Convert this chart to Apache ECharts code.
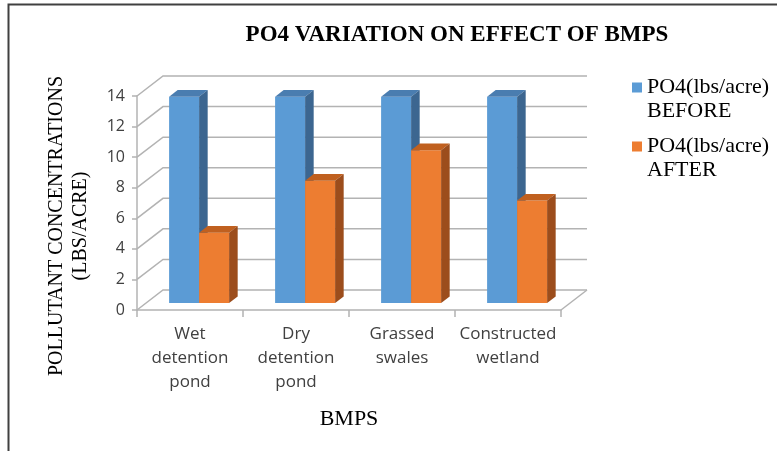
<!DOCTYPE html>
<html>
<head>
<meta charset="utf-8">
<script src="https://cdn.jsdelivr.net/npm/echarts@6/dist/echarts.min.js"></script>
<style>
  html, body { margin: 0; padding: 0; background: #fff; }
  #box { width: 777px; height: 451px; }
</style>
</head>
<body>
<div id="box"></div>
<script>
// data
const categories = ['Wet\ndetention\npond', 'Dry\ndetention\npond', 'Grassed\nswales', 'Constructed\nwetland'];
const seriesNames = ['PO4(lbs/acre) BEFORE', 'PO4(lbs/acre) AFTER'];
const before = [13.5, 13.5, 13.5, 13.5];
const after = [4.6, 8.0, 10.0, 6.7];
const yTicks = [0, 2, 4, 6, 8, 10, 12, 14];

// fake 3d depth of the plot box (px)
const DX = 26, DY = 20;
const F1 = 0.35, F2 = 0.68;   // bar front / back as part of the depth
const BAR_RATIO = 0.283;

const faces = [
  {front: '#5B9BD5', top: '#4A7DB0', side: '#3C6690'},
  {front: '#ED7D31', top: '#C0601F', side: '#9C4D1C'}
];

const serif = 'Liberation Serif';
const sans = 'Open Sans';

function wallRender(params, api) {
  const cs = params.coordSys;
  const v = api.value(0);
  const y = api.coord([0, v])[1];
  const style = {stroke: '#B3B3B3', lineWidth: 1.5, fill: null};
  const kids = [
    {type: 'polyline', shape: {points: [[cs.x, y], [cs.x + DX, y - DY], [cs.x + cs.width + DX, y - DY]]}, style: style}
  ];
  if (v === 0) {
    kids.push({type: 'line', shape: {x1: cs.x + cs.width, y1: y, x2: cs.x + cs.width + DX, y2: y - DY}, style: style});
  }
  return {type: 'group', children: kids};
}

function barRender(idx) {
  return function (params, api) {
    const c = faces[idx];
    const cat = api.value(0);
    const top = api.coord([cat, api.value(1)]);
    const base = api.coord([cat, 0]);
    const w = api.size([1, 0])[0] * BAR_RATIO;
    const fx = DX * F1, fy = DY * F1;
    const dx = DX * (F2 - F1), dy = DY * (F2 - F1);
    const x0 = top[0] - (idx === 0 ? w : 0) + fx;
    const yt = top[1] - fy;
    const yb = base[1] - fy;
    return {
      type: 'group',
      children: [
        {type: 'rect', shape: {x: x0, y: yt, width: w, height: yb - yt}, style: {fill: c.front}},
        {type: 'polygon', shape: {points: [[x0, yt], [x0 + dx, yt - dy], [x0 + w + dx, yt - dy], [x0 + w, yt]]}, style: {fill: c.top}},
        {type: 'polygon', shape: {points: [[x0 + w, yt], [x0 + w + dx, yt - dy], [x0 + w + dx, yb - dy], [x0 + w, yb]]}, style: {fill: c.side}}
      ]
    };
  };
}

let myecharts = echarts.init(document.getElementById('box'));
let option = {
  backgroundColor: '#fff',
  animation: false,
  title: {
    text: 'PO4 VARIATION ON EFFECT OF BMPS',
    left: 452,
    top: 19,
    textAlign: 'center',
    textStyle: {fontFamily: serif, fontWeight: 'bold', fontSize: 23, color: '#000'}
  },
  legend: {
    orient: 'vertical',
    left: 632,
    top: 75,
    padding: 0,
    itemGap: 11,
    itemWidth: 10,
    itemHeight: 33,
    // square sits beside the first text line
    icon: 'path://M0,0h10v10h-10zM0,33h0.01v0.01h-0.01z',
    data: seriesNames,
    formatter: function (name) {
      const i = name.lastIndexOf(' ');
      return name.slice(0, i) + '\n' + name.slice(i + 1);
    },
    textStyle: {fontFamily: serif, fontSize: 22, lineHeight: 24, color: '#000'}
  },
  grid: {left: 137, top: 96, width: 424, height: 214},
  xAxis: {
    type: 'category',
    data: categories,
    name: 'BMPS',
    nameLocation: 'middle',
    nameGap: 98,
    nameTextStyle: {fontFamily: serif, fontSize: 22, color: '#000'},
    axisLine: {lineStyle: {color: '#B3B3B3', width: 1.5}},
    axisTick: {show: true, length: 7, lineStyle: {color: '#B3B3B3', width: 1.5}},
    axisLabel: {fontFamily: sans, fontSize: 17, lineHeight: 24, margin: 12, color: '#404040', interval: 0}
  },
  yAxis: {
    type: 'value',
    min: 0,
    max: 14,
    interval: 2,
    name: 'POLLUTANT CONCENTRATIONS\n(LBS/ACRE)',
    nameLocation: 'middle',
    nameGap: 44,
    nameTextStyle: {fontFamily: serif, fontSize: 20, lineHeight: 24, color: '#000', padding: [0, 46, 0, 0]},
    axisLine: {show: true, lineStyle: {color: '#B3B3B3', width: 1.5}},
    axisTick: {show: true, length: 5, lineStyle: {color: '#B3B3B3', width: 1.5}},
    axisLabel: {fontFamily: sans, fontSize: 16, margin: 12, color: '#404040'},
    splitLine: {show: false}
  },
  graphic: [
    {type: 'polyline', shape: {points: [[8.5, 451], [8.5, 4.5], [777, 4.5]]}, style: {stroke: '#404040', lineWidth: 2, fill: null}}
  ],
  series: [
    {
      type: 'custom',
      name: 'walls',
      renderItem: wallRender,
      data: yTicks.map(v => [v]),
      silent: true,
      z: 1
    },
    {
      type: 'custom',
      name: seriesNames[0],
      renderItem: barRender(0),
      itemStyle: {color: faces[0].front},
      encode: {x: 0, y: 1},
      data: before.map((v, i) => [i, v]),
      z: 2
    },
    {
      type: 'custom',
      name: seriesNames[1],
      renderItem: barRender(1),
      itemStyle: {color: faces[1].front},
      encode: {x: 0, y: 1},
      data: after.map((v, i) => [i, v]),
      z: 3
    }
  ]
};
myecharts.setOption(option);
</script>
</body>
</html>
